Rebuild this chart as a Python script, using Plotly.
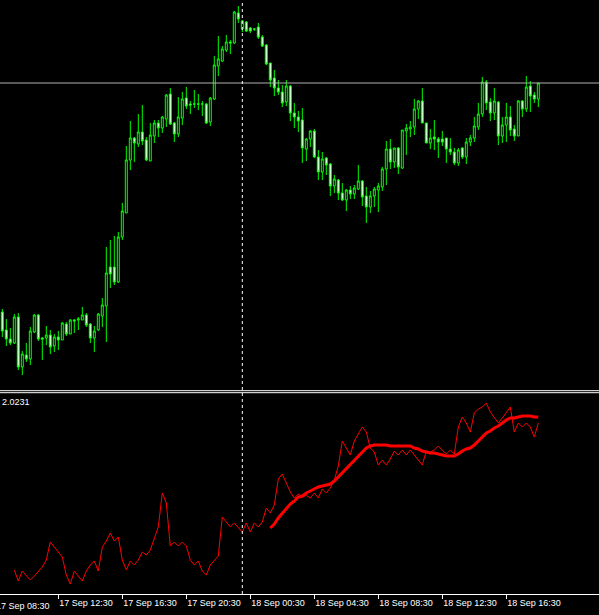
import plotly.graph_objects as go

# 15-minute bars, index 0 = 17 Sep 09:00
opens = [1.3088, 1.3070, 1.3061, 1.3057, 1.3083, 1.3033, 1.3045, 1.3041, 1.3068, 1.3085,
         1.3062, 1.3062, 1.3065, 1.3054, 1.3063, 1.3060, 1.3076, 1.3066, 1.3080, 1.3080,
         1.3080, 1.3085, 1.3076, 1.3062, 1.3070, 1.3084, 1.3094, 1.3133, 1.3133, 1.3118,
         1.3163, 1.3187, 1.3240, 1.3262, 1.3256, 1.3268, 1.3260, 1.3239, 1.3264, 1.3277,
         1.3272, 1.3281, 1.3306, 1.3277, 1.3266, 1.3282, 1.3302, 1.3296, 1.3296, 1.3296,
         1.3296, 1.3296, 1.3278, 1.3301, 1.3334, 1.3339, 1.3350, 1.3358, 1.3357, 1.3387,
         1.3371, 1.3378, 1.3372, 1.3371, 1.3373, 1.3363, 1.3355, 1.3337, 1.3322, 1.3312,
         1.3308, 1.3298, 1.3314, 1.3287, 1.3283, 1.3280, 1.3251, 1.3261, 1.3269, 1.3243,
         1.3228, 1.3242, 1.3236, 1.3214, 1.3220, 1.3207, 1.3200, 1.3210, 1.3206, 1.3211,
         1.3219, 1.3204, 1.3193, 1.3204, 1.3210, 1.3213, 1.3231, 1.3251, 1.3238, 1.3252,
         1.3232, 1.3269, 1.3271, 1.3273, 1.3291, 1.3299, 1.3277, 1.3257, 1.3263, 1.3261,
         1.3261, 1.3262, 1.3251, 1.3248, 1.3237, 1.3252, 1.3243, 1.3258, 1.3262, 1.3273,
         1.3286, 1.3318, 1.3298, 1.3287, 1.3298, 1.3264, 1.3275, 1.3283, 1.3271, 1.3264,
         1.3299, 1.3291, 1.3314, 1.3305, 1.3301]
highs = [1.3091, 1.3081, 1.3072, 1.3086, 1.3087, 1.3049, 1.3057, 1.3073, 1.3086, 1.3086,
         1.3063, 1.3074, 1.3070, 1.3066, 1.3069, 1.3078, 1.3078, 1.3081, 1.3081, 1.3083,
         1.3093, 1.3087, 1.3077, 1.3074, 1.3087, 1.3102, 1.3153, 1.3160, 1.3164, 1.3168,
         1.3197, 1.3254, 1.3279, 1.3263, 1.3286, 1.3295, 1.3263, 1.3277, 1.3280, 1.3280,
         1.3284, 1.3306, 1.3312, 1.3278, 1.3303, 1.3308, 1.3313, 1.3299, 1.3310, 1.3306,
         1.3299, 1.3297, 1.3303, 1.3344, 1.3364, 1.3354, 1.3365, 1.3360, 1.3389, 1.3394,
         1.3380, 1.3379, 1.3373, 1.3372, 1.3377, 1.3365, 1.3356, 1.3337, 1.3330, 1.3320,
         1.3315, 1.3320, 1.3315, 1.3297, 1.3289, 1.3292, 1.3262, 1.3270, 1.3271, 1.3250,
         1.3248, 1.3243, 1.3237, 1.3225, 1.3221, 1.3217, 1.3211, 1.3214, 1.3215, 1.3235,
         1.3220, 1.3213, 1.3209, 1.3213, 1.3217, 1.3233, 1.3259, 1.3261, 1.3252, 1.3253,
         1.3270, 1.3276, 1.3279, 1.3301, 1.3300, 1.3312, 1.3277, 1.3271, 1.3280, 1.3263,
         1.3269, 1.3262, 1.3262, 1.3252, 1.3252, 1.3253, 1.3262, 1.3265, 1.3283, 1.3297,
         1.3323, 1.3320, 1.3302, 1.3312, 1.3299, 1.3283, 1.3297, 1.3294, 1.3275, 1.3300,
         1.3300, 1.3324, 1.3319, 1.3308, 1.3317]
lows = [1.3063, 1.3054, 1.3055, 1.3056, 1.3030, 1.3025, 1.3038, 1.3035, 1.3067, 1.3059,
        1.3040, 1.3055, 1.3046, 1.3048, 1.3050, 1.3060, 1.3064, 1.3066, 1.3067, 1.3070,
        1.3080, 1.3073, 1.3057, 1.3048, 1.3069, 1.3073, 1.3058, 1.3112, 1.3115, 1.3117,
        1.3160, 1.3187, 1.3230, 1.3238, 1.3253, 1.3255, 1.3239, 1.3239, 1.3257, 1.3263,
        1.3267, 1.3273, 1.3275, 1.3258, 1.3263, 1.3275, 1.3291, 1.3286, 1.3292, 1.3290,
        1.3284, 1.3276, 1.3274, 1.3300, 1.3324, 1.3338, 1.3348, 1.3346, 1.3356, 1.3377,
        1.3368, 1.3368, 1.3367, 1.3369, 1.3361, 1.3353, 1.3335, 1.3313, 1.3304, 1.3305,
        1.3293, 1.3294, 1.3279, 1.3272, 1.3268, 1.3237, 1.3239, 1.3253, 1.3242, 1.3220,
        1.3220, 1.3225, 1.3204, 1.3207, 1.3200, 1.3199, 1.3189, 1.3201, 1.3201, 1.3210,
        1.3194, 1.3177, 1.3187, 1.3193, 1.3188, 1.3209, 1.3215, 1.3231, 1.3232, 1.3226,
        1.3231, 1.3245, 1.3263, 1.3265, 1.3281, 1.3277, 1.3257, 1.3251, 1.3250, 1.3242,
        1.3254, 1.3237, 1.3245, 1.3235, 1.3234, 1.3241, 1.3236, 1.3254, 1.3258, 1.3270,
        1.3283, 1.3290, 1.3279, 1.3280, 1.3255, 1.3257, 1.3258, 1.3264, 1.3259, 1.3264,
        1.3283, 1.3288, 1.3288, 1.3297, 1.3293]
closes = [1.3069, 1.3061, 1.3057, 1.3083, 1.3033, 1.3046, 1.3041, 1.3069, 1.3085, 1.3061,
          1.3061, 1.3065, 1.3053, 1.3063, 1.3060, 1.3077, 1.3066, 1.3080, 1.3079, 1.3081,
          1.3085, 1.3075, 1.3062, 1.3069, 1.3086, 1.3095, 1.3127, 1.3126, 1.3118, 1.3163,
          1.3189, 1.3240, 1.3262, 1.3257, 1.3268, 1.3259, 1.3240, 1.3265, 1.3277, 1.3272,
          1.3283, 1.3305, 1.3276, 1.3266, 1.3283, 1.3301, 1.3294, 1.3295, 1.3296, 1.3296,
          1.3296, 1.3277, 1.3302, 1.3335, 1.3341, 1.3351, 1.3358, 1.3357, 1.3388, 1.3381,
          1.3379, 1.3369, 1.3369, 1.3371, 1.3363, 1.3354, 1.3336, 1.3320, 1.3312, 1.3308,
          1.3297, 1.3314, 1.3287, 1.3283, 1.3279, 1.3252, 1.3261, 1.3269, 1.3243, 1.3228,
          1.3241, 1.3235, 1.3214, 1.3221, 1.3207, 1.3200, 1.3210, 1.3206, 1.3212, 1.3219,
          1.3203, 1.3193, 1.3204, 1.3211, 1.3214, 1.3231, 1.3251, 1.3238, 1.3252, 1.3233,
          1.3270, 1.3272, 1.3273, 1.3291, 1.3299, 1.3277, 1.3257, 1.3262, 1.3261, 1.3258,
          1.3258, 1.3251, 1.3248, 1.3237, 1.3250, 1.3243, 1.3258, 1.3262, 1.3274, 1.3286,
          1.3318, 1.3297, 1.3287, 1.3299, 1.3264, 1.3275, 1.3283, 1.3270, 1.3264, 1.3299,
          1.3291, 1.3313, 1.3304, 1.3301, 1.3317]

# indicator sub-window (starts at bar 3), and its moving average (starts at bar 67)
osc_start = 3
osc = [0.23, 0.12, 0.22, 0.18, 0.13, 0.17, 0.21, 0.26, 0.33, 0.51,
       0.46, 0.41, 0.36, 0.18, 0.09, 0.22, 0.17, 0.12, 0.22, 0.28,
       0.32, 0.22, 0.46, 0.52, 0.60, 0.52, 0.56, 0.33, 0.23, 0.32,
       0.28, 0.33, 0.41, 0.38, 0.43, 0.55, 0.66, 1.00, 0.90, 0.47,
       0.51, 0.47, 0.51, 0.47, 0.33, 0.28, 0.32, 0.22, 0.18, 0.28,
       0.33, 0.37, 0.76, 0.71, 0.66, 0.70, 0.66, 0.61, 0.70, 0.61,
       0.70, 0.66, 0.71, 0.85, 0.80, 0.88, 1.14, 1.19, 1.10, 1.01,
       0.95, 0.99, 0.96, 0.98, 0.95, 1.00, 0.95, 1.04, 1.00, 1.05,
       1.13, 1.27, 1.52, 1.45, 1.38, 1.52, 1.59, 1.66, 1.61, 1.45,
       1.41, 1.28, 1.33, 1.28, 1.34, 1.42, 1.38, 1.43, 1.38, 1.43,
       1.38, 1.33, 1.28, 1.42, 1.41, 1.43, 1.47, 1.43, 1.39, 1.43,
       1.39, 1.66, 1.76, 1.70, 1.61, 1.80, 1.84, 1.86, 1.90, 1.81,
       1.76, 1.70, 1.75, 1.81, 1.86, 1.61, 1.70, 1.66, 1.70, 1.66,
       1.56, 1.70]
ma_start = 67
ma = [0.65, 0.69, 0.75, 0.80, 0.85, 0.89, 0.92, 0.96, 0.97, 1.00,
      1.02, 1.04, 1.06, 1.07, 1.08, 1.09, 1.12, 1.16, 1.21, 1.25,
      1.28, 1.32, 1.37, 1.41, 1.45, 1.47, 1.48, 1.48, 1.48, 1.48,
      1.47, 1.47, 1.47, 1.47, 1.47, 1.47, 1.45, 1.44, 1.42, 1.41,
      1.40, 1.40, 1.39, 1.38, 1.37, 1.37, 1.37, 1.39, 1.42, 1.44,
      1.45, 1.48, 1.52, 1.56, 1.60, 1.62, 1.65, 1.67, 1.70, 1.73,
      1.75, 1.75, 1.76, 1.77, 1.77, 1.77, 1.76, 1.76]

tick_bars = [14, 30, 46, 62, 78, 94, 110, 126]
tick_text = ["17 Sep 12:30", "17 Sep 16:30", "17 Sep 20:30", "18 Sep 00:30",
             "18 Sep 04:30", "18 Sep 08:30", "18 Sep 12:30", "18 Sep 16:30"]
first_label_bar = -2
first_label = "17 Sep 08:30"
cursor_bar = 60
level_line = 1.3317
osc_label = "2.0231"

bars = list(range(len(opens)))
osc_x = list(range(osc_start, osc_start + len(osc)))
ma_x = list(range(ma_start, ma_start + len(ma)))

GREEN = "#00ff00"
FONT = "Liberation Sans"

fig = go.Figure()
fig.add_trace(go.Candlestick(
    x=bars, open=opens, high=highs, low=lows, close=closes,
    increasing=dict(line=dict(color=GREEN, width=1), fillcolor="black"),
    decreasing=dict(line=dict(color=GREEN, width=1), fillcolor="white"),
    whiskerwidth=0, xaxis="x", yaxis="y", showlegend=False, hoverinfo="skip",
))
fig.add_trace(go.Scatter(x=osc_x, y=osc, mode="lines", line=dict(color="#ff0000", width=1),
                         xaxis="x2", yaxis="y2", showlegend=False, hoverinfo="skip"))
fig.add_trace(go.Scatter(x=ma_x, y=ma, mode="lines", line=dict(color="#ff0000", width=3),
                         xaxis="x2", yaxis="y2", showlegend=False, hoverinfo="skip"))

xr = [-0.575, 149.175]
main_bottom = 206 / 594
sub_top = 201 / 594

fig.update_layout(
    width=599, height=615,
    margin=dict(l=0, r=0, t=0, b=21),
    paper_bgcolor="black", plot_bgcolor="black",
    font=dict(family=FONT, size=9, color="white"),
    xaxis=dict(domain=[0, 1], range=xr, anchor="y", showgrid=False, zeroline=False,
               showticklabels=False, rangeslider=dict(visible=False), fixedrange=True),
    yaxis=dict(domain=[main_bottom, 1], range=[1.3012, 1.3400], showgrid=False,
               zeroline=False, showticklabels=False),
    xaxis2=dict(domain=[0, 1], range=xr, anchor="y2", showgrid=False, zeroline=False,
                showline=True, linecolor="white", linewidth=1,
                ticks="outside", ticklen=4, tickcolor="white",
                tickvals=tick_bars, ticktext=tick_text,
                ticklabelposition="outside right",
                tickfont=dict(family=FONT, size=9, color="white")),
    yaxis2=dict(domain=[0, sub_top], range=[-0.01, 2.0], showgrid=False,
                zeroline=False, showticklabels=False),
)

# separator between the price window and the indicator window
for yp in [(594 - 390.7) / 594, (594 - 392.7) / 594]:
    fig.add_shape(type="line", xref="paper", yref="paper", x0=0, x1=1, y0=yp, y1=yp,
                  line=dict(color="white", width=1))

# horizontal price level
fig.add_shape(type="line", xref="paper", yref="y", x0=0, x1=1, y0=level_line, y1=level_line,
              line=dict(color="#b0b0b0", width=1))

# crosshair / cursor line through both windows
fig.add_shape(type="line", xref="x", yref="paper", x0=cursor_bar, x1=cursor_bar, y0=0, y1=1,
              line=dict(color="white", width=1, dash="3px,3px"))

fig.add_annotation(x=0, xref="paper", y=1.913, yref="y2", text=osc_label, showarrow=False,
                   xanchor="left", yanchor="middle", font=dict(family=FONT, size=9, color="white"))
# the 08:30 label sits just left of the visible range, so place it in paper units
first_label_x = (first_label_bar - xr[0]) / (xr[1] - xr[0])
fig.add_annotation(x=first_label_x, xref="paper", y=0, yref="paper", text=first_label,
                   showarrow=False, xanchor="left", yanchor="top", yshift=-5,
                   font=dict(family=FONT, size=9, color="white"))

fig.write_html("out.html", config={"displayModeBar": False},
               post_script="document.body.style.margin='0';")
